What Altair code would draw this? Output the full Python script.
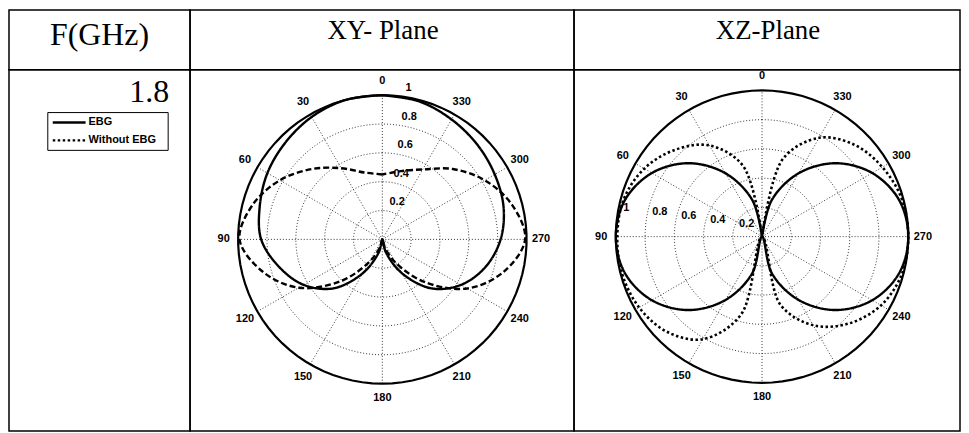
import altair as alt
import pandas as pd

# ---------------- data ----------------
angles = [0, 15, 30, 45, 60, 75, 90, 105, 120, 135, 150, 165, 180,
          195, 210, 225, 240, 255, 270, 285, 300, 315, 330, 345, 360]

xy_ebg = [1.00, 1.00, 0.98, 0.95, 0.92, 0.88, 0.84, 0.74, 0.63, 0.48, 0.27, 0.09, 0.00,
          0.09, 0.27, 0.48, 0.63, 0.74, 0.82, 0.87, 0.90, 0.93, 0.96, 0.99, 1.00]
xy_without = [0.45, 0.48, 0.57, 0.69, 0.82, 0.93, 0.99, 0.86, 0.67, 0.41, 0.18, 0.05, 0.00,
              0.05, 0.19, 0.42, 0.68, 0.87, 0.99, 0.93, 0.82, 0.69, 0.56, 0.49, 0.45]
xz_ebg = [0.00, 0.26, 0.50, 0.71, 0.87, 0.97, 1.00, 0.97, 0.87, 0.71, 0.50, 0.26, 0.00,
          0.26, 0.50, 0.71, 0.87, 0.97, 1.00, 0.97, 0.87, 0.71, 0.50, 0.26, 0.00]
xz_without = [0.00, 0.50, 0.72, 0.84, 0.93, 0.98, 0.99, 0.99, 0.97, 0.92, 0.81, 0.55, 0.00,
              0.48, 0.70, 0.84, 0.94, 0.99, 1.00, 0.99, 0.95, 0.89, 0.78, 0.55, 0.00]

series_names = ["EBG", "Without EBG"]
angle_ticks = [0, 30, 60, 90, 120, 150, 180, 210, 240, 270, 300, 330]
radial_ticks = [0.2, 0.4, 0.6, 0.8, 1.0]
radial_labels = ["0.2", "0.4", "0.6", "0.8", "1"]
grid_radii = [0.2, 0.4, 0.6, 0.8]
headers = ["F(GHz)", "XY- Plane", "XZ-Plane"]
freq_label = "1.8"

# ---------------- layout (pixels) ----------------
COL_W = [182, 386, 388]
HEAD_H = 60
BODY_H = 363
SERIF = "Times New Roman, Liberation Serif, serif"
SANS = "Arial, Liberation Sans, sans-serif"

def series_df(ebg, without):
    rows = [{"a": a, "r": r, "s": series_names[0]} for a, r in zip(angles, ebg)]
    rows += [{"a": a, "r": r, "s": series_names[1]} for a, r in zip(angles, without)]
    return pd.DataFrame(rows)

circle_steps = list(range(0, 361, 4))
grid_df = pd.DataFrame([{"r": r, "a": a} for r in grid_radii for a in circle_steps])
outer_df = pd.DataFrame([{"r": 1.0, "a": a} for a in circle_steps])
spoke_df = pd.DataFrame({"a": angle_ticks})
atick_df = pd.DataFrame({"a": angle_ticks, "lab": [str(a) for a in angle_ticks]})
rtick_df = pd.DataFrame({"r": radial_ticks, "lab": radial_labels})

TO_XY = dict(px="-datum.r*sin(datum.a*PI/180)", py="datum.r*cos(datum.a*PI/180)")


def polar(df, width, cx, cy, R, lab_ang, lab_dx, lab_dy, without_dash, without_width):
    xs = alt.Scale(domain=[-cx / R, (width - cx) / R], nice=False, zero=False)
    ys = alt.Scale(domain=[-(BODY_H - cy) / R, cy / R], nice=False, zero=False)

    def X(f):
        return alt.X(f, type="quantitative", scale=xs, axis=None)

    def Y(f):
        return alt.Y(f, type="quantitative", scale=ys, axis=None)

    grid = alt.Chart(grid_df).transform_calculate(**TO_XY).mark_line(
        strokeDash=[1, 2], strokeWidth=0.9, color="#222222"
    ).encode(x=X("px"), y=Y("py"), detail="r:N", order="a:Q")

    spokes = alt.Chart(spoke_df).transform_calculate(
        x0="0", y0="0",
        px="-sin(datum.a*PI/180)", py="cos(datum.a*PI/180)"
    ).mark_rule(strokeDash=[1, 2], strokeWidth=0.9, color="#222222").encode(
        x=X("x0"), y=Y("y0"), x2=alt.X2("px"), y2=alt.Y2("py")
    )

    outer = alt.Chart(outer_df).transform_calculate(**TO_XY).mark_line(
        strokeWidth=2.2, color="black"
    ).encode(x=X("px"), y=Y("py"), order="a:Q")

    lines = alt.Chart(df).transform_calculate(**TO_XY).mark_line(
        interpolate="catmull-rom", color="black", strokeCap="butt"
    ).encode(
        x=X("px"), y=Y("py"), order="a:Q", detail="s:N",
        strokeDash=alt.StrokeDash("s:N", scale=alt.Scale(domain=series_names,
                                  range=[[1, 0], without_dash]), legend=None),
        strokeWidth=alt.StrokeWidth("s:N", scale=alt.Scale(domain=series_names,
                                    range=[2.4, without_width]), legend=None),
    )

    alabels = alt.Chart(atick_df).transform_calculate(
        px="-1.1*sin(datum.a*PI/180)", py="1.1*cos(datum.a*PI/180)"
    ).mark_text(font=SANS, fontWeight="bold", fontSize=11, color="black").encode(
        x=X("px"), y=Y("py"), text="lab:N"
    )

    rlabels = alt.Chart(rtick_df).transform_calculate(
        px=f"(datum.r+0.01)*cos({lab_ang}*PI/180)", py=f"(datum.r+0.01)*sin({lab_ang}*PI/180)"
    ).mark_text(font=SANS, fontWeight="bold", fontSize=11, color="black",
                align="left", baseline="bottom", dx=lab_dx, dy=lab_dy).encode(
        x=X("px"), y=Y("py"), text="lab:N"
    )

    return alt.layer(grid, spokes, outer, lines, alabels, rlabels).properties(
        width=width, height=BODY_H
    )


def header(text, width, size, cx, base):
    return alt.Chart(pd.DataFrame({"t": [text]})).mark_text(
        font=SERIF, fontSize=size, baseline="alphabetic", align="center", color="black"
    ).encode(text="t:N", x=alt.value(cx), y=alt.value(base)).properties(width=width, height=HEAD_H)


h1 = header(headers[0], COL_W[0], 32, 91, 35)
h2 = header(headers[1], COL_W[1], 27, 194, 29)
h3 = header(headers[2], COL_W[2], 27, 195, 29)

# first body cell: frequency + legend
freq = alt.Chart(pd.DataFrame({"t": [freq_label]})).mark_text(
    font=SERIF, fontSize=32, baseline="alphabetic", align="right", color="black"
).encode(text="t:N", x=alt.value(161), y=alt.value(32))

leg_df = pd.DataFrame({"s": series_names, "i": [0, 1]})
box = alt.Chart(pd.DataFrame({"s": ["box"]})).mark_rect(
    fill="white", stroke="black", strokeWidth=1
).encode(x=alt.value(39), x2=alt.value(160), y=alt.value(43), y2=alt.value(81))
leg_y = alt.Y("i:Q", scale=alt.Scale(domain=[0, 1], range=[53, 71], nice=False, zero=False), axis=None)
leg_lines = alt.Chart(leg_df).mark_rule(color="black", strokeCap="butt").encode(
    x=alt.value(44), x2=alt.value(77), y=leg_y,
    strokeDash=alt.StrokeDash("s:N", scale=alt.Scale(domain=series_names, range=[[1, 0], [2.5, 2.5]]), legend=None),
    strokeWidth=alt.StrokeWidth("s:N", scale=alt.Scale(domain=series_names, range=[2.5, 2.2]), legend=None),
)
leg_text = alt.Chart(leg_df).mark_text(
    font=SANS, fontWeight="bold", fontSize=11, align="left", baseline="middle", color="black"
).encode(x=alt.value(80), y=leg_y, text="s:N")

cell1 = alt.layer(freq, box, leg_lines, leg_text).properties(width=COL_W[0], height=BODY_H)

xy = polar(series_df(xy_ebg, xy_without), COL_W[1], 193.3, 170.5, 145, 82, 3, -2, [6, 3], 2.4)
xz = polar(series_df(xz_ebg, xz_without), COL_W[2], 189, 167.7, 147, 172, 7.5, -3, [2.5, 2.5], 2.6)

chart = alt.concat(h1, h2, h3, cell1, xy, xz, columns=3, spacing=0, bounds="flush").resolve_scale(
    x="independent", y="independent", strokeDash="independent", strokeWidth="independent"
).configure_view(stroke="black", strokeWidth=1.5).properties(padding=0, background="white")

chart.save("out.html", embed_options={"renderer": "svg", "actions": False})
